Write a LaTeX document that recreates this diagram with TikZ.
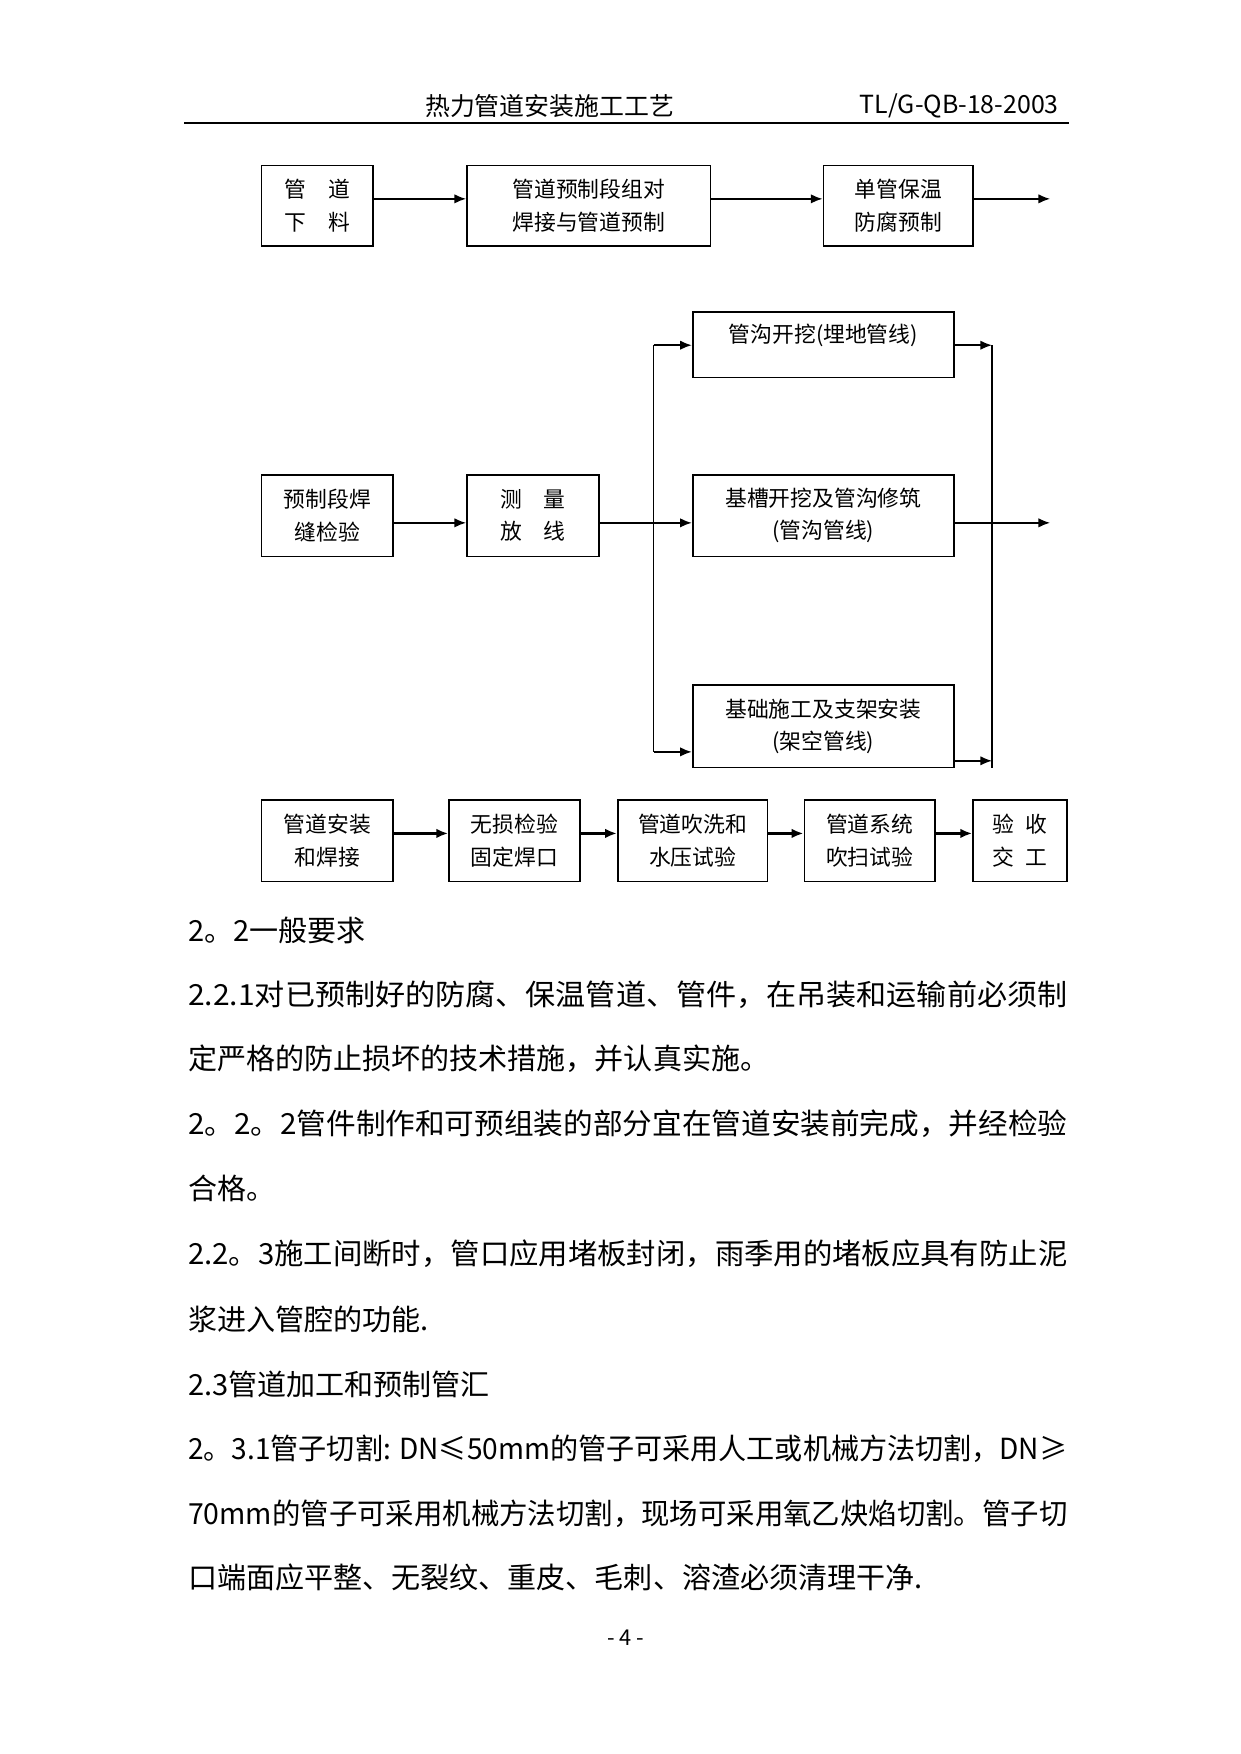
\documentclass[tikz,border=0pt]{standalone}
\usepackage{graphicx}
\usepackage{fontspec}
\setmainfont{Noto Sans CJK SC}
\usetikzlibrary{arrows.meta}

% a justified line of the body text
\newcommand{\fullline}[1]{\resizebox{148.9mm}{\height}{#1}}

\begin{document}
\begin{tikzpicture}[
                        x=0.1892mm, y=-0.1892mm,
                        >={Latex[length=2mm,width=1.6mm]},
                        box/.style={rectangle, draw, line width=0.8pt, inner sep=0pt, align=center,
                                    font=\fontsize{10.5}{15.6}\selectfont},
                        boxtext/.style={inner sep=0pt, font=\fontsize{10.5}{15.6}\selectfont},
                        flow/.style={->, line width=0.8pt},
                        thickflow/.style={->, line width=1.8pt},
                        para/.style={anchor=west, inner sep=0pt, font=\fontsize{14}{16}\selectfont}
                    ]
                    \useasboundingbox (0,0) rectangle (1110,1570);

                    % Header
                    \node (title) at (492,95) {\fontsize{12}{14}\selectfont 热力管道安装施工工艺};
                    \node [anchor=east, inner sep=0pt] (docno) at (948,95) {\fontsize{12}{14}\selectfont TL/G-QB-18-2003};
                    \coordinate (hl) at (165,110);
                    \coordinate (hr) at (957,110);
                    \draw [line width=1.2pt] (hl) -- (hr);

                    % Blocks, first row
                    \node [box, minimum width=18.92mm, minimum height=13.62mm] (XL) at (284,184) {管\hspace{1em}道\\下\hspace{1em}料};
                    \node [box, minimum width=41.25mm, minimum height=13.62mm] (YZ) at (527,184) {管道预制段组对\\焊接与管道预制};
                    \node [box, minimum width=25.35mm, minimum height=13.62mm] (BW) at (804,184) {单管保温\\防腐预制};
                    \coordinate (r1) at (0,178);
                    \coordinate (out1) at (940,178);

                    % Blocks, branches
                    \node [box, minimum width=22.33mm, minimum height=13.81mm] (HF) at (293,461.5) {预制段焊\\缝检验};
                    \node [box, minimum width=22.33mm, minimum height=13.81mm] (CL) at (477,461.5) {测\hspace{1em}量\\放\hspace{1em}线};
                    \node [box, minimum width=44.27mm, minimum height=11.16mm] (GK) at (737,308.5) {};
                    \node [boxtext] (GKtext) at (737,300) {管沟开挖(埋地管线)};
                    \node [box, minimum width=44.27mm, minimum height=13.81mm] (JC) at (737,461.5) {基槽开挖及管沟修筑\\(管沟管线)};
                    \node [box, minimum width=44.27mm, minimum height=14mm] (JZ) at (737,650) {基础施工及支架安装\\(架空管线)};
                    \coordinate (r2) at (0,468);
                    \coordinate (bl) at (585,309);
                    \coordinate (bl2) at (585,673);
                    \coordinate (br) at (888,309);
                    \coordinate (br3) at (888,681);
                    \coordinate (br2) at (888,687);
                    \coordinate (out2) at (940,468);

                    % Blocks, last row
                    \node [box, minimum width=22.33mm, minimum height=13.81mm] (AZ) at (293,752.5) {管道安装\\和焊接};
                    \node [box, minimum width=22.14mm, minimum height=13.81mm] (WS) at (460.5,752.5) {无损检验\\固定焊口};
                    \node [box, minimum width=25.35mm, minimum height=13.81mm] (CX) at (620,752.5) {管道吹洗和\\水压试验};
                    \node [box, minimum width=22.14mm, minimum height=13.81mm] (XT) at (778.5,752.5) {管道系统\\吹扫试验};
                    \node [box, minimum width=15.89mm, minimum height=13.81mm] (YS) at (913,752.5) {验\hspace{0.5em}收\\交\hspace{0.5em}工};
                    \coordinate (r4) at (0,746);

                    % Connections
                    \draw [flow] (XL.east |- r1) -- (YZ.west |- r1);
                    \draw [flow] (YZ.east |- r1) -- (BW.west |- r1);
                    \draw [flow] (BW.east |- r1) -- (out1);

                    \draw [flow] (HF.east |- r2) -- (CL.west |- r2);
                    \draw [flow] (CL.east |- r2) -- (JC.west |- r2);
                    \draw [line width=0.8pt] (bl) -- (bl2);
                    \draw [flow] (bl) -- (GK.west |- bl);
                    \draw [flow] (bl2) -- (JZ.west |- bl2);
                    \draw [line width=0.8pt] (br) -- (br2);
                    \draw [flow] (GK.east |- br) -- (br);
                    \draw [flow] (JZ.east |- br3) -- (br3);
                    \draw [flow] (JC.east |- out2) -- (out2);

                    \draw [thickflow] (AZ.east |- r4) -- (WS.west |- r4);
                    \draw [thickflow] (WS.east |- r4) -- (CX.west |- r4);
                    \draw [thickflow] (CX.east |- r4) -- (XT.west |- r4);
                    \draw [thickflow] (XT.east |- r4) -- (YS.west |- r4);

                    % Text
                    \node [para] (t1) at (168,833) {2。2一般要求};
                    \node [para] (t2) at (168,890) {\fullline{2.2.1对已预制好的防腐、保温管道、管件，在吊装和运输前必须制}};
                    \node [para] (t3) at (168,948) {定严格的防止损坏的技术措施，并认真实施。};
                    \node [para] (t4) at (168,1006) {\fullline{2。2。2管件制作和可预组装的部分宜在管道安装前完成，并经检验}};
                    \node [para] (t5) at (168,1064) {合格。};
                    \node [para] (t6) at (168,1122) {\fullline{2.2。3施工间断时，管口应用堵板封闭，雨季用的堵板应具有防止泥}};
                    \node [para] (t7) at (168,1181) {浆进入管腔的功能.};
                    \node [para] (t8) at (168,1239) {2.3管道加工和预制管汇};
                    \node [para] (t9) at (168,1297) {\fullline{2。3.1管子切割: DN≤50mm的管子可采用人工或机械方法切割，DN≥}};
                    \node [para] (t10) at (168,1355) {\fullline{70mm的管子可采用机械方法切割，现场可采用氧乙炔焰切割。管子切}};
                    \node [para] (t11) at (168,1412) {口端面应平整、无裂纹、重皮、毛刺、溶渣必须清理干净.};
                    \node (pageno) at (560,1466) {\fontsize{10.5}{12}\selectfont - 4 -};
                \end{tikzpicture}
\end{document}
